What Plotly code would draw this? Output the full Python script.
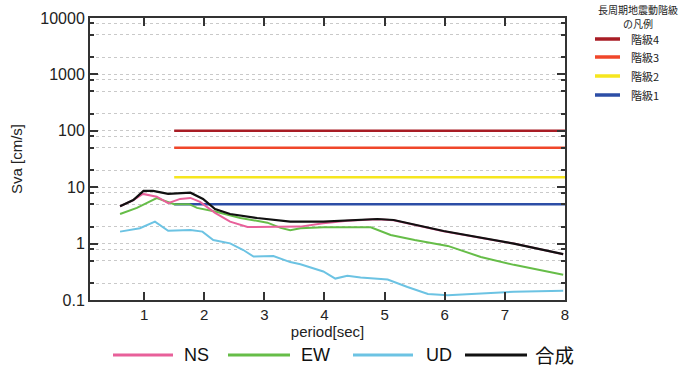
import plotly.graph_objects as go

# ---- data ----
ns_period = [0.6, 0.82, 0.98, 1.21, 1.4, 1.55, 1.6, 1.77, 1.93, 2.18, 2.43, 2.72, 3.05, 3.43, 3.6, 3.98, 4.38, 4.88, 5.15, 5.98, 6.6, 7.15, 7.97]
ns_value = [4.6, 5.9, 7.6, 6.8, 5.2, 5.9, 6.2, 6.45, 5.5, 3.5, 2.45, 1.97, 1.97, 2.0, 2.0, 2.3, 2.55, 2.7, 2.6, 1.65, 1.25, 1.0, 0.65]

ew_period = [0.6, 0.88, 1.21, 1.43, 1.5, 1.75, 1.88, 2.18, 2.6, 3.05, 3.27, 3.43, 3.6, 3.98, 4.77, 5.1, 5.5, 6.05, 6.6, 7.15, 7.97]
ew_value = [3.35, 4.3, 6.4, 5.25, 5.0, 5.0, 4.3, 3.7, 2.85, 2.35, 1.9, 1.72, 1.87, 1.95, 1.95, 1.42, 1.16, 0.91, 0.58, 0.42, 0.28]

ud_period = [0.6, 0.93, 1.18, 1.4, 1.77, 1.97, 2.15, 2.43, 2.65, 2.82, 3.15, 3.43, 3.6, 3.98, 4.18, 4.38, 4.6, 5.05, 5.38, 5.72, 6.05, 6.6, 7.15, 7.97]
ud_value = [1.63, 1.87, 2.45, 1.69, 1.74, 1.63, 1.16, 1.01, 0.77, 0.59, 0.6, 0.47, 0.43, 0.32, 0.24, 0.27, 0.25, 0.23, 0.17, 0.128, 0.122, 0.13, 0.14, 0.146]

sum_period = [0.6, 0.82, 0.99, 1.15, 1.4, 1.77, 1.98, 2.18, 2.43, 2.88, 3.43, 3.98, 4.88, 5.15, 5.98, 6.6, 7.15, 7.97]
sum_value = [4.6, 5.9, 8.6, 8.6, 7.6, 8.0, 6.2, 4.1, 3.35, 2.84, 2.45, 2.45, 2.73, 2.62, 1.67, 1.26, 1.0, 0.65]

level_names = ["階級4", "階級3", "階級2", "階級1"]
level_values = [100, 50, 15, 5]
level_start = 1.5
level_end = 8
level_colors = ["#a81d25", "#f0462a", "#f6e61e", "#2c4ea6"]

series_names = ["NS", "EW", "UD", "合成"]
series_colors = ["#e8609a", "#66bd48", "#6cc3e3", "#111111"]

x_ticks = [1, 2, 3, 4, 5, 6, 7, 8]
y_ticks = [0.1, 1, 10, 100, 1000, 10000]
y_ticktext = ["0.1", "1", "10", "100", "1000", "10000"]
y_minor = [m * 10 ** e for e in range(-1, 4) for m in (2, 5, 8)]

# ---- geometry helpers (target pixel -> paper) ----
W, H = 686, 369
L, R, T, B = 90, 565, 18, 300


def px(x):
    return (x - L) / (R - L)


def py(y):
    return (B - y) / (B - T)


FONT = "Liberation Sans, Arial, sans-serif"
CJK = "Noto Sans CJK JP, sans-serif"

fig = go.Figure()

for name, val, col in zip(level_names, level_values, level_colors):
    fig.add_trace(go.Scatter(x=[level_start, level_end], y=[val, val], mode="lines",
                             line=dict(color=col, width=2.5), name=name, showlegend=False))

order = [2, 1, 0, 3]
all_x = [ns_period, ew_period, ud_period, sum_period]
all_y = [ns_value, ew_value, ud_value, sum_value]
for i in order:
    fig.add_trace(go.Scatter(x=all_x[i], y=all_y[i], mode="lines",
                             line=dict(color=series_colors[i], width=2 if i < 3 else 2.2),
                             name=series_names[i], showlegend=False))

fig.update_layout(
    width=W, height=H,
    margin=dict(l=L, r=W - R, t=T, b=H - B, autoexpand=False),
    paper_bgcolor="white", plot_bgcolor="white",
    font=dict(family=FONT, color="#222"),
    showlegend=False,
)

fig.update_xaxes(range=[0.1, 8], tickvals=x_ticks, ticks="inside", ticklen=8, tickwidth=2,
                 tickcolor="#333", showline=True, linecolor="#333", linewidth=2, mirror="ticks",
                 showgrid=False, zeroline=False, tickfont=dict(size=15, family=FONT),
                 title=dict(text="period[sec]", font=dict(size=15, family=FONT), standoff=2))

fig.update_yaxes(type="log", range=[-1, 4], tickvals=y_ticks, ticktext=y_ticktext,
                 ticks="inside", ticklen=8, tickwidth=2, tickcolor="#333",
                 showline=True, linecolor="#333", linewidth=2, mirror="ticks",
                 showgrid=True, gridcolor="#c9c9c9", griddash="dot", gridwidth=1,
                 zeroline=False, tickfont=dict(size=16, family=FONT),
                 minor=dict(tickmode="array", tickvals=y_minor, ticks="inside", ticklen=4,
                            tickcolor="#333", showgrid=True, gridcolor="#c9c9c9",
                            griddash="dot", gridwidth=1),
                 title=dict(text="Sva [cm/s]", font=dict(size=15, family=FONT), standoff=14))

shapes = []
annos = []

# top-right legend
for txt, yy in (("長周期地震動階級", 9), ("の凡例", 23.5)):
    annos.append(dict(text=txt, x=px(638), y=py(yy), xref="paper", yref="paper",
                      xanchor="center", yanchor="middle", showarrow=False,
                      font=dict(size=10, family=CJK, color="#222")))
ly = [39, 57, 76, 95]
for name, col, yy in zip(level_names, level_colors, ly):
    shapes.append(dict(type="line", xref="paper", yref="paper", x0=px(595), x1=px(620),
                       y0=py(yy), y1=py(yy), line=dict(color=col, width=3.5)))
    annos.append(dict(text=name, x=px(629), y=py(yy), xref="paper", yref="paper",
                      xanchor="left", yanchor="middle", showarrow=False,
                      font=dict(size=11, family=CJK, color="#222")))

# bottom legend
by = 355
seg = [(113, 173, 182), (228, 290, 299), (353, 413, 424), (465, 527, 533)]
for i, (x0, x1, tx) in enumerate(seg):
    shapes.append(dict(type="line", xref="paper", yref="paper", x0=px(x0), x1=px(x1),
                       y0=py(by), y1=py(by), line=dict(color=series_colors[i], width=3)))
    fs = 19.5 if i == 3 else 18
    fam = CJK if i == 3 else FONT
    annos.append(dict(text=series_names[i], x=px(tx), y=py(by), xref="paper", yref="paper",
                      xanchor="left", yanchor="middle", showarrow=False,
                      font=dict(size=fs, family=fam, color="#111")))

fig.update_layout(shapes=shapes, annotations=annos)

# remove the default page margin so the figure sits at the window's top-left corner
fig.write_html("out.html", config={"displayModeBar": False},
               post_script="document.body.style.margin='0';")
